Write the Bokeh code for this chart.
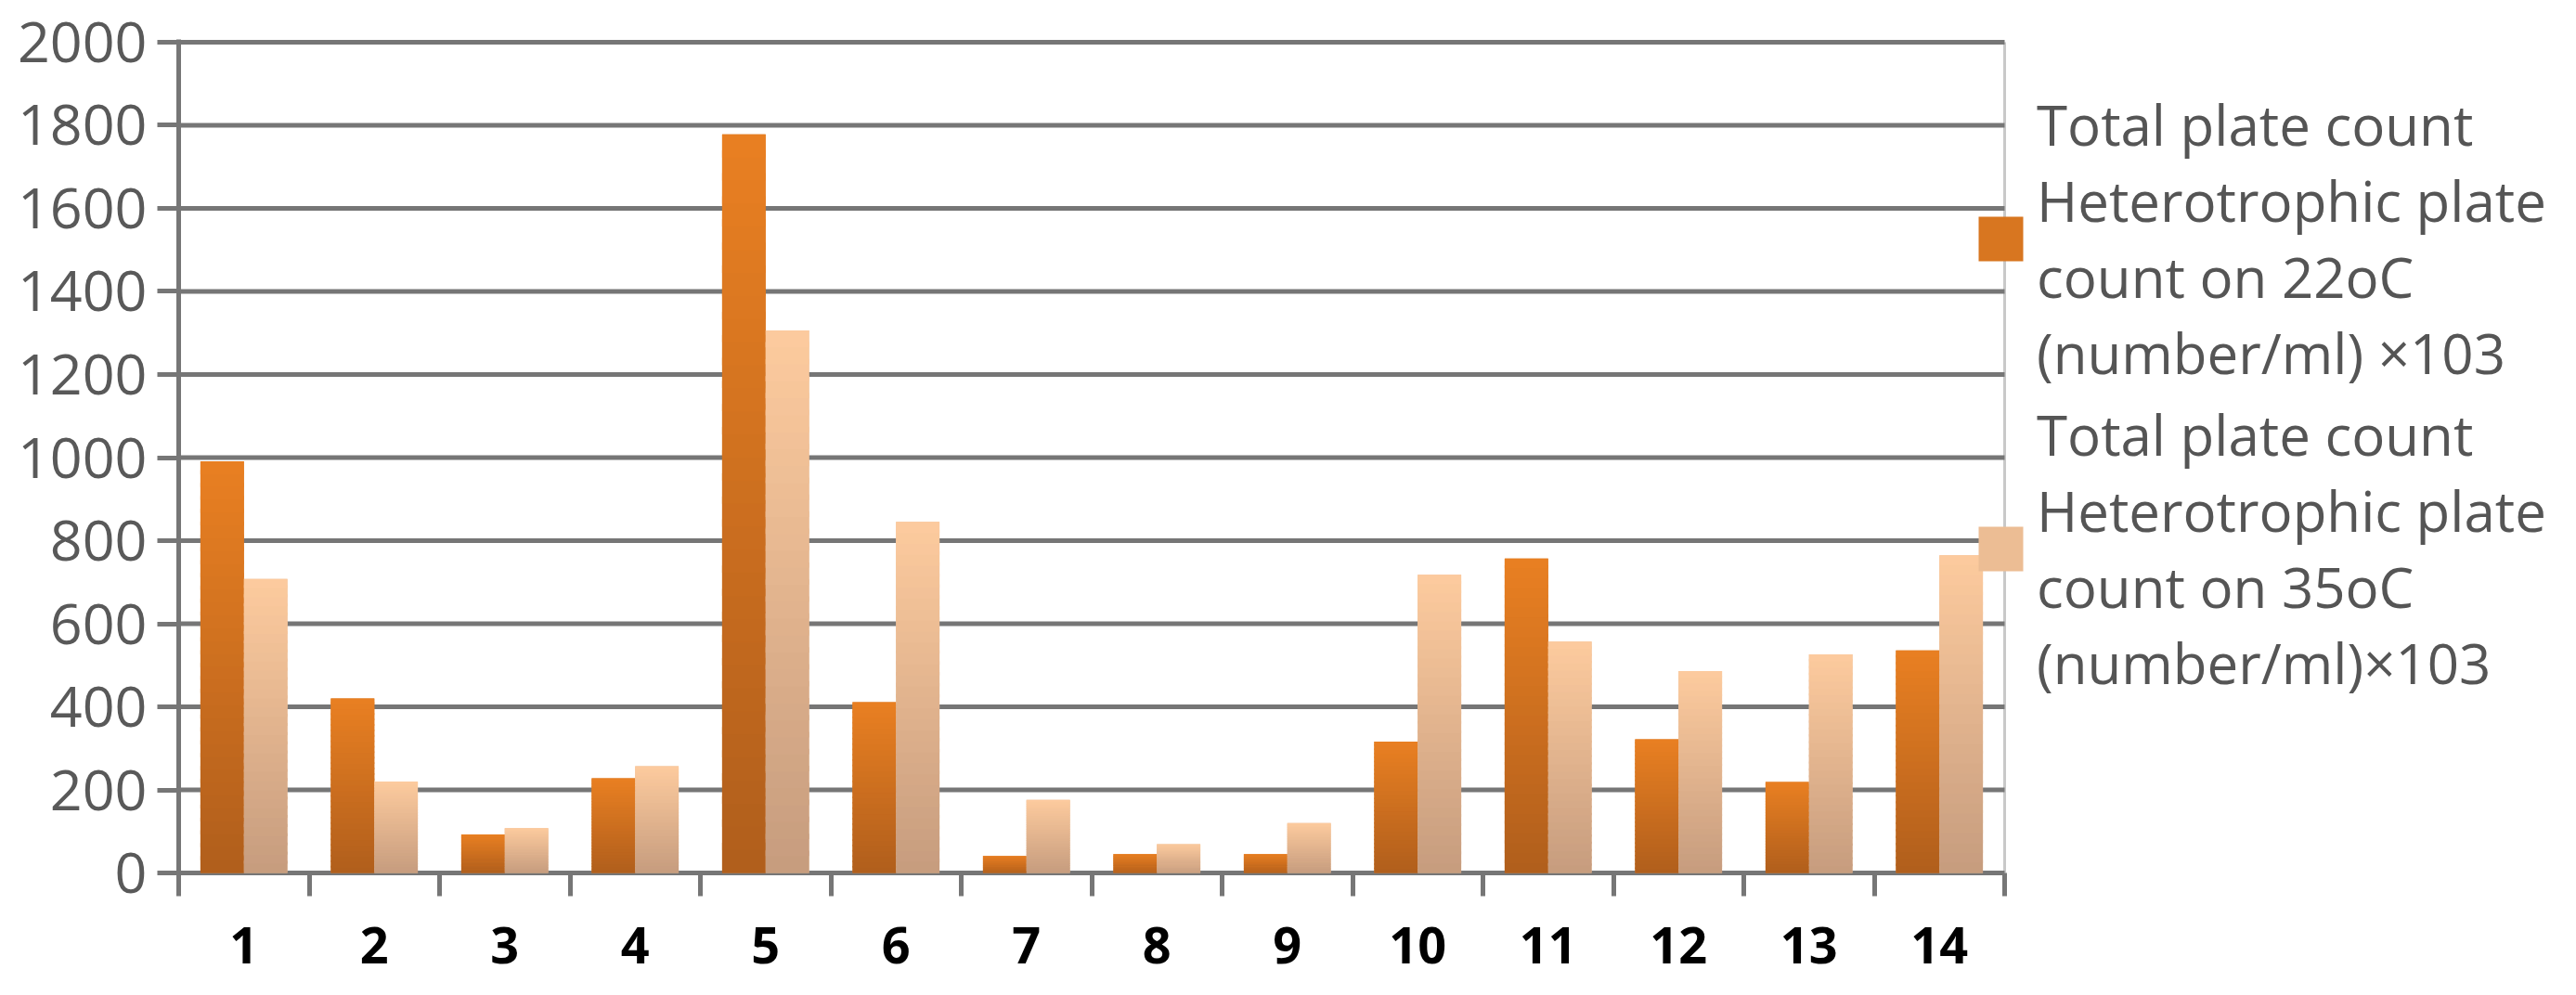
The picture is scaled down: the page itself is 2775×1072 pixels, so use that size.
from bokeh.plotting import figure
from bokeh.models import Range1d, FixedTicker, Legend, LegendItem, ColumnDataSource
from bokeh.embed import file_html
from bokeh.resources import INLINE

# ---- data ----
samples = ["1", "2", "3", "4", "5", "6", "7", "8", "9", "10", "11", "12", "13", "14"]
hpc_22 = [991, 420, 93, 228, 1778, 411, 41, 45, 45, 316, 757, 322, 219, 536]
hpc_35 = [708, 220, 108, 257, 1306, 845, 176, 69, 120, 718, 557, 486, 526, 765]
y_ticks = [0, 200, 400, 600, 800, 1000, 1200, 1400, 1600, 1800, 2000]
label_22 = "Total plate count\nHeterotrophic plate\ncount on 22oC\n(number/ml) \u00d7103"
label_35 = "Total plate count\nHeterotrophic plate\ncount on 35oC\n(number/ml)\u00d7103"

# ---- style / layout ----
DARK_TOP, DARK_BOT = (233, 128, 34), (176, 94, 28)
LIGHT_TOP, LIGHT_BOT = (253, 203, 158), (198, 156, 126)
GRID = "#767676"
N_SLICES = 32
BAR_W = 1.0 / 3.0
W, H = 2759, 1056
LEFT, RIGHT, TOP, BOTTOM = 192, 5, 42, 113
PX_PER_CAT = 140.5           # horizontal pixels for one sample
PAD = 6.7                    # small y padding (data units) so edge lines are not clipped

def mix(c_top, c_bot, f):
    r = [round(c_bot[i] + (c_top[i] - c_bot[i]) * f) for i in range(3)]
    return "#%02x%02x%02x" % tuple(r)

xs = list(range(1, len(samples) + 1))
x_lo, x_hi = xs[0] - 0.5, xs[-1] + 0.5
frame_w = W - LEFT - RIGHT

p = figure(width=W, height=H, output_backend="svg", toolbar_location=None,
           x_range=Range1d(x_lo, x_lo + frame_w / PX_PER_CAT),
           y_range=Range1d(y_ticks[0] - PAD, y_ticks[-1] + PAD),
           min_border_left=LEFT, min_border_right=RIGHT, min_border_top=TOP, min_border_bottom=BOTTOM)
p.outline_line_color = None
p.background_fill_color = "white"
p.border_fill_color = "white"
p.title.visible = False
p.xgrid.visible = False
p.ygrid.visible = False

# y axis
ya = p.yaxis[0]
ya.ticker = FixedTicker(ticks=y_ticks)
ya.axis_line_color = GRID
ya.axis_line_width = 5
ya.major_tick_line_color = GRID
ya.major_tick_line_width = 5
ya.major_tick_out = 23
ya.major_tick_in = 0
ya.minor_tick_line_color = None
ya.major_label_text_font = "Open Sans"
ya.major_label_text_font_size = "61px"
ya.major_label_text_color = "#595959"
ya.major_label_standoff = 11

# x axis (line drawn as the 0 grid line, only over the samples)
xa = p.xaxis[0]
xa.ticker = FixedTicker(ticks=xs, minor_ticks=[x - 0.5 for x in xs] + [x_hi])
xa.major_label_overrides = {x: s for x, s in zip(xs, samples)}
xa.axis_line_color = None
xa.major_tick_line_color = None
xa.major_tick_out = 0
xa.major_tick_in = 0
xa.minor_tick_line_color = GRID
xa.minor_tick_line_width = 5
xa.minor_tick_out = 22
xa.minor_tick_in = 3
xa.major_label_text_font = "Open Sans"
xa.major_label_text_font_style = "bold"
xa.major_label_text_font_size = "54px"
xa.major_label_text_color = "#000000"
xa.major_label_standoff = 33

# right border of plot area and horizontal grid lines (only across the samples)
p.segment(x0=[x_hi], x1=[x_hi], y0=[y_ticks[0]], y1=[y_ticks[-1]], line_color="#c8c8c8", line_width=3)
p.segment(x0=[x_lo] * len(y_ticks), x1=[x_hi] * len(y_ticks), y0=y_ticks, y1=y_ticks,
          line_color=GRID, line_width=5)

# base bars (used for legend)
x22 = [x - BAR_W / 2 for x in xs]
x35 = [x + BAR_W / 2 for x in xs]
r22 = p.vbar(x=x22, top=hpc_22, width=BAR_W, fill_color=mix(DARK_TOP, DARK_BOT, 0.7), line_color=None)
r35 = p.vbar(x=x35, top=hpc_35, width=BAR_W, fill_color=mix(LIGHT_TOP, LIGHT_BOT, 0.7), line_color=None)

# gradient slices
def gradient(xpos, vals, c_top, c_bot):
    X, B, T, C = [], [], [], []
    for k in range(N_SLICES):
        f = (k + 0.5) / N_SLICES
        for x, v in zip(xpos, vals):
            X.append(x)
            B.append(v * k / N_SLICES)
            T.append(min(v, v * (k + 1) / N_SLICES + v * 0.01))
            C.append(mix(c_top, c_bot, f))
    src = ColumnDataSource(dict(x=X, bottom=B, top=T, color=C))
    p.vbar(x="x", bottom="bottom", top="top", width=BAR_W, fill_color="color", line_color=None, source=src)

gradient(x22, hpc_22, DARK_TOP, DARK_BOT)
gradient(x35, hpc_35, LIGHT_TOP, LIGHT_BOT)

legend = Legend(items=[LegendItem(label=label_22, renderers=[r22]),
                       LegendItem(label=label_35, renderers=[r35])],
                location=(1933, 188))
legend.glyph_width = 60
legend.glyph_height = 60
legend.label_standoff = 9
legend.label_text_font = "Open Sans"
legend.label_text_font_size = "60px"
legend.label_text_color = "#555555"
legend.label_text_line_height = 1.39
legend.spacing = 6
legend.padding = 0
legend.margin = 0
legend.border_line_color = None
legend.background_fill_alpha = 0
p.add_layout(legend)

open("out.html", "w").write(file_html(p, INLINE))
